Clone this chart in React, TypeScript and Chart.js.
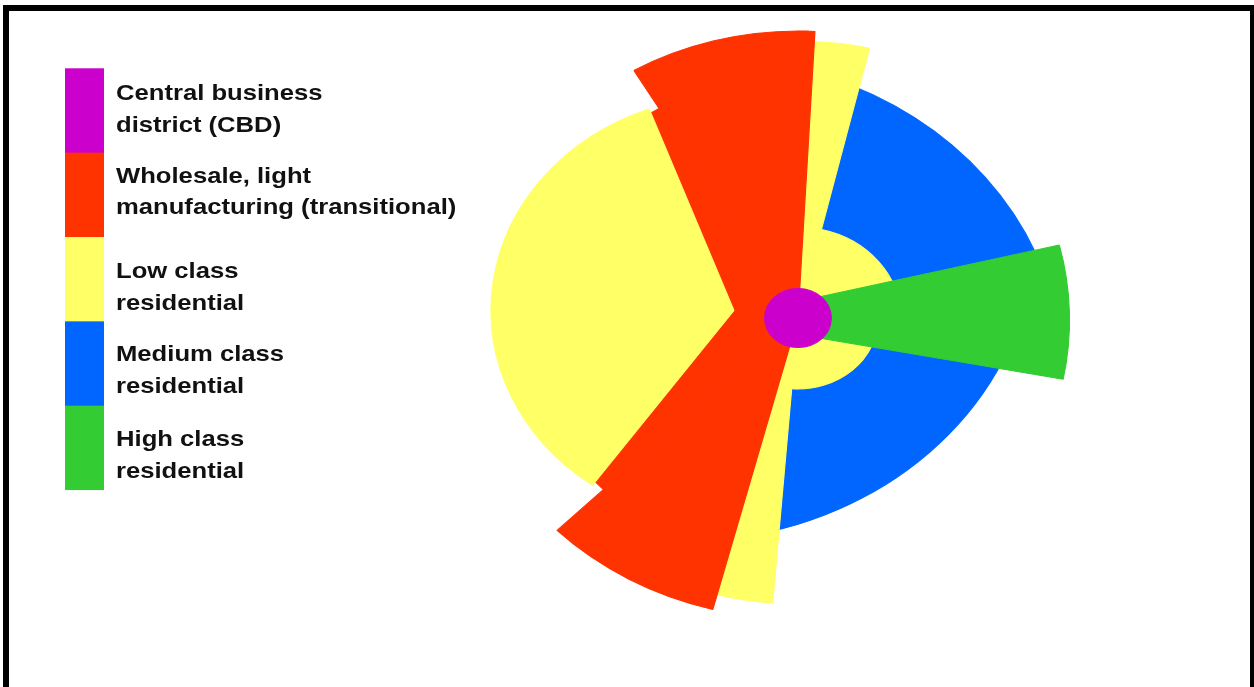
import React, { useEffect, useRef } from 'react';
import { Chart, registerables } from 'chart.js';

Chart.register(...registerables);

// ---- Legend (zones of the Hoyt sector model) ----
const zoneNames: string[][] = [
  ['Central business', 'district (CBD)'],
  ['Wholesale, light', 'manufacturing (transitional)'],
  ['Low class', 'residential'],
  ['Medium class', 'residential'],
  ['High class', 'residential'],
];
const zoneColors = ['#CC00CC', '#FF3300', '#FFFF66', '#0066FF', '#33CC33'];

// ---- Sectors: angular span (degrees, clockwise from north) and radius ----
const sectorLabels = ['s1', 's2', 's3', 's4', 's5', 's6'];

const cbdSpan = [360];
const cbdRadius = [29.5];

const lowBigSpan = [213.17, 128.85, 17.98];
const lowBigRadius = [0, 157.8, 0];

const transSpan = [3.0, 191.5, 30.6, 104.5, 30.4];
const transRadius = [287, 0, 301, 243, 287];

const highSpan = [78.49, 20.13, 261.38];
const highRadius = [0, 391.75, 0];

const lowSmallSpan = [3.0, 10.2, 76.8, 94.5, 10.0, 165.5];
const lowSmallRadius = [0, 277, 91, 71, 286, 0];

const mediumSpan = [26.87, 57.46, 13.67, 66, 196];
const mediumRadius = [0, 417, 0, 447, 0];

// ---- styling ----
const lowBigOffset = [0, 228.8, 0];
const highOffset = [0, -303, 0];
const mediumOffset = [0, -400, 0, -540, 0];
const STRETCH_X = 1.13;
const TEXT_STRETCH = 1.165;
const textOffsets = [32, 30, 41, 40, 40.5];

function makeSet(span: number[], radius: number[], color: string, offset?: number[]) {
  const colors = radius.map((r) => (r > 0 ? color : 'rgba(0,0,0,0)'));
  return {
    data: radius,
    angle: span,
    backgroundColor: colors,
    borderColor: colors,
    borderWidth: 1,
    offset: offset ?? 0,
    clip: false,
  } as any;
}

const stretchPlugin = {
  id: 'stretchX',
  beforeDatasetsDraw(chart: any) {
    const ctx = chart.ctx;
    const r = chart.scales.r;
    ctx.save();
    ctx.translate(r.xCenter, r.yCenter);
    ctx.scale(STRETCH_X, 1);
    ctx.translate(-r.xCenter, -r.yCenter);
  },
  afterDatasetsDraw(chart: any) {
    chart.ctx.restore();
  },
};

const legendPlugin = {
  id: 'zoneLegend',
  afterDraw(chart: any) {
    const ctx = chart.ctx;
    ctx.save();
    const boxTop = 68.3;
    const itemH = 84.35;
    zoneNames.forEach((lines, i) => {
      const top = boxTop + i * itemH;
      ctx.fillStyle = zoneColors[i];
      ctx.fillRect(65, top, 39, itemH + (i < zoneNames.length - 1 ? 0.6 : 0));
      ctx.fillStyle = '#111111';
      ctx.font = 'bold 22px "Liberation Sans", Arial, sans-serif';
      ctx.textBaseline = 'alphabetic';
      ctx.textAlign = 'left';
      lines.forEach((line, j) => {
        ctx.save();
        ctx.translate(116, top + textOffsets[i] + j * 31.5);
        ctx.scale(TEXT_STRETCH, 1);
        ctx.fillText(line, 0, 0);
        ctx.restore();
      });
    });
    // outer frame
    ctx.fillStyle = '#000000';
    ctx.fillRect(3, 5, 1251, 6);
    ctx.fillRect(3, 5, 6, 682);
    ctx.fillRect(1250, 5, 4, 682);
    ctx.restore();
  },
};

export default function App() {
  const ref = useRef<HTMLCanvasElement>(null);
  useEffect(() => {
    const chart = new Chart(ref.current as HTMLCanvasElement, {
      type: 'polarArea',
      data: {
        labels: sectorLabels,
        datasets: [
          makeSet(cbdSpan, cbdRadius, zoneColors[0]),
          makeSet(lowBigSpan, lowBigRadius, zoneColors[2], lowBigOffset),
          makeSet(transSpan, transRadius, zoneColors[1]),
          makeSet(highSpan, highRadius, zoneColors[4], highOffset),
          makeSet(lowSmallSpan, lowSmallRadius, zoneColors[2]),
          makeSet(mediumSpan, mediumRadius, zoneColors[3], mediumOffset),
        ],
      },
      options: {
        animation: false,
        responsive: true,
        maintainAspectRatio: false,
        events: [],
        layout: { padding: { left: 498, top: 18, right: 156, bottom: 69 } },
        scales: {
          r: { display: false, min: 0, max: 300, startAngle: 0 },
        },
        plugins: {
          legend: { display: false },
          tooltip: { enabled: false },
        },
      } as any,
      plugins: [stretchPlugin, legendPlugin],
    });
    return () => chart.destroy();
  }, []);
  return (
    <div style={{ position: 'absolute', left: 0, top: 0, width: 1254, height: 687, background: '#ffffff' }}>
      <canvas ref={ref} />
    </div>
  );
}
